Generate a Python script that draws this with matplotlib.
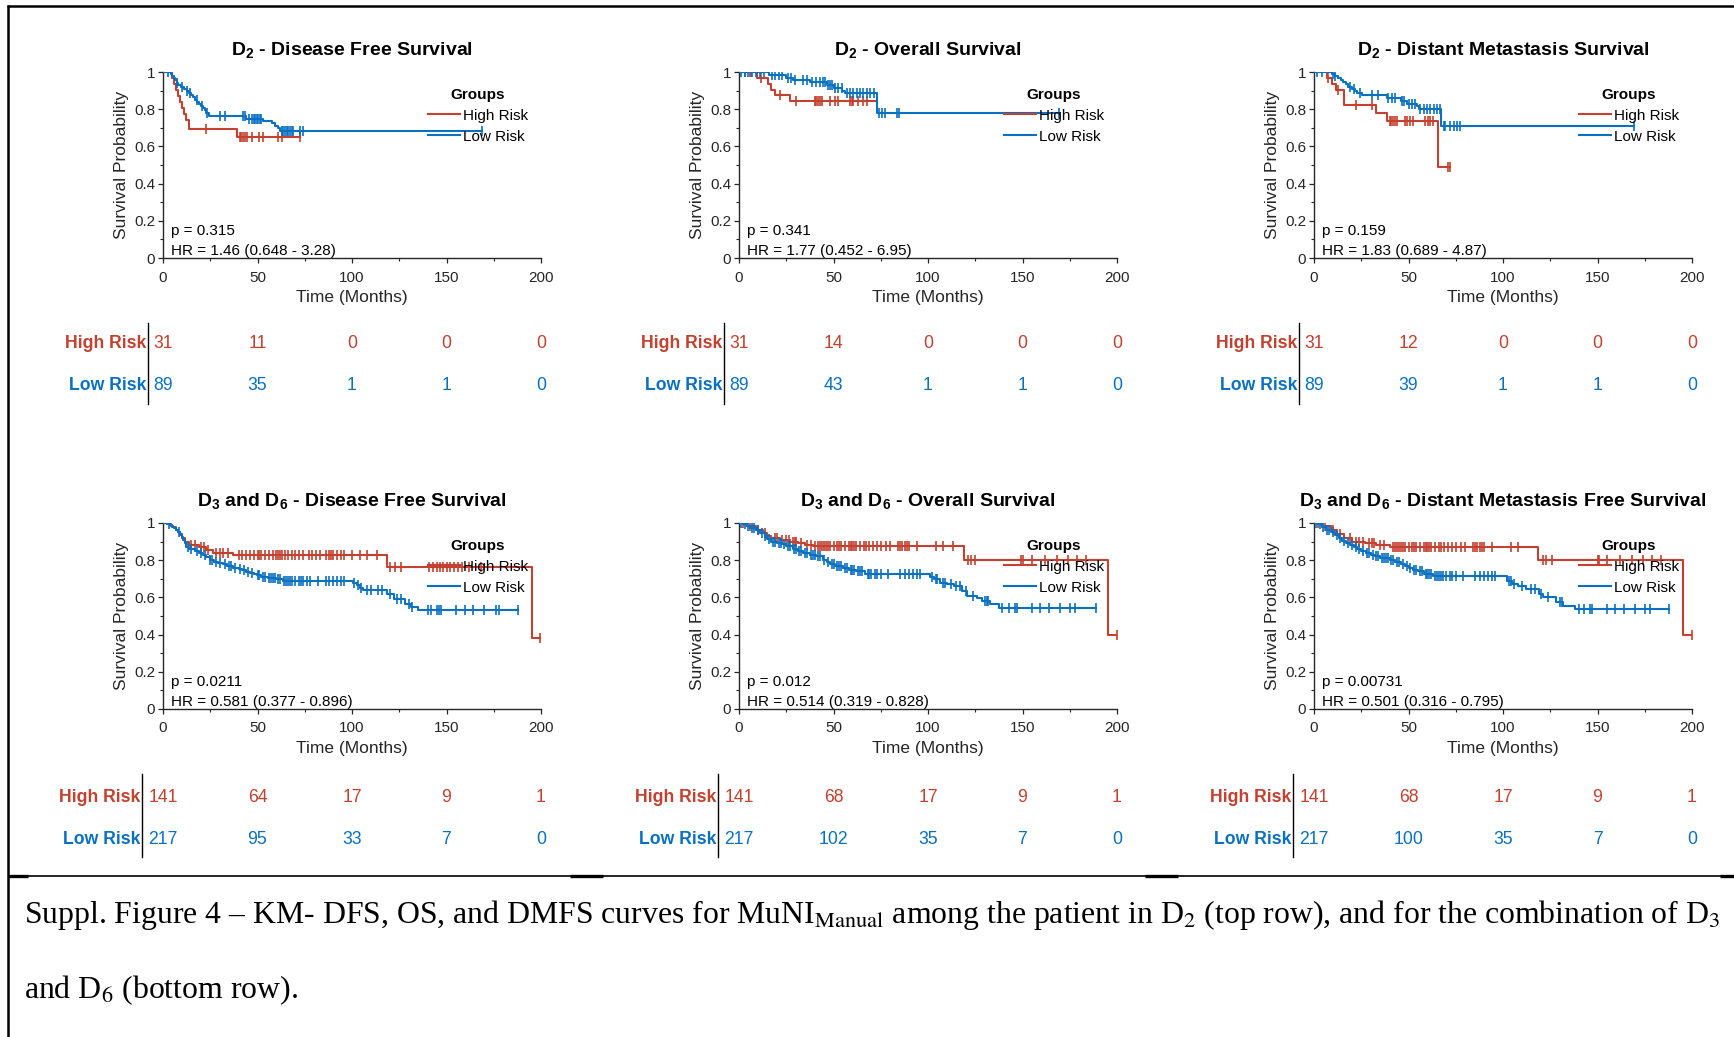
import numpy as np
import matplotlib
matplotlib.use('Agg')
import matplotlib.pyplot as plt
from matplotlib.lines import Line2D
from matplotlib.ticker import MultipleLocator, FixedLocator

plt.rcParams['font.family'] = ['Liberation Sans', 'DejaVu Sans']
plt.rcParams['mathtext.fontset'] = 'custom'
plt.rcParams['mathtext.rm'] = 'Liberation Sans'
plt.rcParams['mathtext.bf'] = 'Liberation Sans:bold'
plt.rcParams['mathtext.it'] = 'Liberation Sans:italic'

# ---------------------------------------------------------------- data
groups = ['High Risk', 'Low Risk']
xticks = [0, 50, 100, 150, 200]
yticks = [0, 0.2, 0.4, 0.6, 0.8, 1.0]
ytick_labels = ['0', '0.2', '0.4', '0.6', '0.8', '1']
at_risk_times = [0, 50, 100, 150, 200]

titles = [r'$\mathbf{D_2}$ - Disease Free Survival',
          r'$\mathbf{D_2}$ - Overall Survival',
          r'$\mathbf{D_2}$ - Distant Metastasis Survival',
          r'$\mathbf{D_3}$ and $\mathbf{D_6}$ - Disease Free Survival',
          r'$\mathbf{D_3}$ and $\mathbf{D_6}$ - Overall Survival',
          r'$\mathbf{D_3}$ and $\mathbf{D_6}$ - Distant Metastasis Free Survival']
p_texts = ['p = 0.315', 'p = 0.341', 'p = 0.159', 'p = 0.0211', 'p = 0.012', 'p = 0.00731']
hr_texts = ['HR = 1.46 (0.648 - 3.28)', 'HR = 1.77 (0.452 - 6.95)', 'HR = 1.83 (0.689 - 4.87)',
            'HR = 0.581 (0.377 - 0.896)', 'HR = 0.514 (0.319 - 0.828)', 'HR = 0.501 (0.316 - 0.795)']

# Panel 1: D2 DFS
dfs_d2_high_t = [5, 6, 7, 8, 9, 10, 11, 12, 13.5, 39]
dfs_d2_high_s = [0.968, 0.935, 0.903, 0.871, 0.839, 0.806, 0.774, 0.742, 0.695, 0.652]
dfs_d2_high_c = [22.5, 40.5, 41.5, 42.5, 43.5, 44.5, 47, 51, 53, 61, 63, 72.5]
dfs_d2_low_t = [4, 5, 5.8, 6.5, 7.2, 8, 9.5, 11, 12.5, 14, 15, 16, 17, 18, 19, 20, 21, 22, 23, 24.5, 44, 53, 57.5, 59, 61, 62]
dfs_d2_low_s = [0.989, 0.977, 0.966, 0.955, 0.943, 0.932, 0.92, 0.909, 0.897, 0.886, 0.874, 0.863, 0.851,
                0.84, 0.828, 0.817, 0.805, 0.794, 0.782, 0.763, 0.75, 0.737, 0.724, 0.711, 0.697, 0.683]
dfs_d2_low_c = [2.8, 7.2, 9.9, 12.9, 14.3, 17.8, 20.5, 23.1, 30.2, 32.8, 42.5, 43.3, 45.5, 46.9, 48, 48.7,
                49.6, 50.4, 51.3, 52, 62.8, 63.7, 64.6, 65.4, 66.3, 67.2, 68.1, 69, 72.5, 74.3, 168.6]
dfs_d2_high_n = [31, 11, 0, 0, 0]
dfs_d2_low_n = [89, 35, 1, 1, 0]

# Panel 2: D2 OS
os_d2_high_t = [9.5, 15.5, 17, 19, 27]
os_d2_high_s = [0.968, 0.935, 0.903, 0.874, 0.845]
os_d2_high_c = [3, 5.7, 6.5, 11.9, 21.6, 30.4, 40, 41, 42, 43, 43.7, 48, 51, 52.6, 58.8, 59.6, 60.5,
                63.2, 65.8, 67.6, 72.9]
os_d2_low_t = [16, 25, 28.7, 37.5, 46.4, 50, 54.5, 56, 73]
os_d2_low_s = [0.982, 0.968, 0.957, 0.945, 0.93, 0.915, 0.9, 0.888, 0.78]
os_d2_low_c = [1.2, 3, 5, 7, 9, 11, 13, 17.2, 19, 21, 23, 26, 27.5, 29.6, 34, 35.8, 38.4, 41, 42.8, 44.6,
               45.5, 47.3, 48.1, 49, 50.8, 52.6, 54.3, 57, 58.8, 60.5, 62.3, 64, 65.8, 67.6, 69.4, 71.2,
               74.3, 75.6, 77.3, 83.5, 84.4, 169.4]
os_d2_high_n = [31, 14, 0, 0, 0]
os_d2_low_n = [89, 43, 1, 1, 0]

# Panel 3: D2 DMFS
dm_d2_high_t = [6.7, 9.5, 11.5, 16, 33, 38.5, 65.4]
dm_d2_high_s = [0.968, 0.935, 0.903, 0.823, 0.78, 0.735, 0.49]
dm_d2_high_c = [7.6, 12.9, 22.3, 30.6, 40, 41, 42, 43, 43.9, 48.3, 49.2, 50.9, 52.3, 58.9, 60.1, 61.5,
                63, 70.7, 72.1]
dm_d2_low_t = [9.4, 11, 12.9, 14.5, 15.6, 17, 18.2, 20, 21.5, 22.6, 25.3, 38.5, 46, 49, 54.5, 55.3, 67.4]
dm_d2_low_s = [0.988, 0.977, 0.966, 0.955, 0.944, 0.933, 0.922, 0.91, 0.899, 0.887, 0.875, 0.86, 0.845,
               0.83, 0.815, 0.80, 0.71]
dm_d2_low_c = [1.4, 4.1, 10.3, 11.1, 19.1, 20.9, 24.4, 30.6, 34.1, 39.4, 41.2, 43, 46.5, 47.4, 50, 51.8,
               53.6, 56.2, 58, 59.7, 61.5, 63.3, 65, 66.8, 68.6, 69.5, 72.1, 73.9, 75.7, 77.1, 169.4]
dm_d2_high_n = [31, 12, 0, 0, 0]
dm_d2_low_n = [89, 39, 1, 1, 0]

# Panel 4: D3 & D6 DFS
dfs_d36_high_t = [2, 4, 5.5, 7, 8, 9, 10, 11.5, 14, 19, 23, 26.5, 37, 118.4, 195]
dfs_d36_high_s = [0.993, 0.986, 0.978, 0.964, 0.95, 0.935, 0.92, 0.9, 0.88, 0.87, 0.855, 0.84, 0.828,
                  0.765, 0.38]
dfs_d36_high_c = [15, 17, 20, 21.5, 24, 28, 30, 32, 34.5, 40, 42, 44, 46, 48, 50, 51, 52, 54, 56, 58, 60,
                  61, 62, 63, 64.5, 66, 68, 70, 72, 74, 77, 79, 81, 83, 86, 88, 89, 90, 92, 94, 96, 100,
                  104, 108, 113, 120, 122.5, 126, 141, 143, 145, 146.5, 148, 150, 152, 154, 156, 158,
                  162, 168, 199.6]
dfs_d36_low_t = [2, 3.5, 5, 6, 7, 8, 9, 10, 10.6, 11.5, 12.4, 14, 16.8, 19, 21, 23, 24.7, 27, 29, 31.8,
                 34, 37, 40, 42, 44, 46, 48, 49.5, 52, 55.7, 60, 63.6, 100.5, 102.5, 104, 106, 118.4,
                 122, 128, 131, 135]
dfs_d36_low_s = [0.995, 0.99, 0.98, 0.972, 0.962, 0.95, 0.94, 0.925, 0.91, 0.89, 0.87, 0.86, 0.85, 0.84,
                 0.83, 0.815, 0.80, 0.792, 0.785, 0.778, 0.768, 0.76, 0.752, 0.745, 0.738, 0.732, 0.726,
                 0.72, 0.712, 0.705, 0.697, 0.69, 0.677, 0.665, 0.652, 0.64, 0.62, 0.59, 0.565, 0.55,
                 0.53]
dfs_d36_low_c = [3, 8.5, 13, 15, 18, 20, 22, 25, 26, 28, 30, 33, 35, 36, 38, 41, 43, 45, 47, 50, 51, 53,
                 54, 56, 57, 58, 59, 61, 62, 64, 65, 66, 67, 68, 70, 72, 73, 74, 76, 78, 82, 86, 88, 90,
                 92, 94, 96, 101, 103, 105, 108, 110, 114, 116, 120, 124, 126, 130, 132, 140, 142, 145,
                 146, 147, 155, 160, 164, 170, 176, 178, 188]
dfs_d36_high_n = [141, 64, 17, 9, 1]
dfs_d36_low_n = [217, 95, 33, 7, 0]

# Panel 5: D3 & D6 OS
os_d36_high_t = [4, 9, 12.7, 15, 17, 21.6, 27, 31, 35, 39, 119, 195]
os_d36_high_s = [0.985, 0.965, 0.945, 0.93, 0.92, 0.91, 0.9, 0.89, 0.882, 0.875, 0.80, 0.40]
os_d36_high_c = [2, 6, 10, 14, 19, 20, 23, 25, 26.5, 28.5, 29.5, 30, 33, 36, 38, 40, 42, 43, 44, 45, 46,
                 47, 48, 50, 52, 53, 54, 56, 58, 59, 60, 61, 62, 64, 66, 67, 69, 71, 73, 75, 78, 80, 84,
                 85, 86, 88, 89, 90, 94, 104, 108, 113, 121, 122.5, 125, 149, 150.5, 155, 162, 168, 174,
                 179, 183.5, 200]
os_d36_low_t = [2, 4, 6, 9, 11, 13.6, 15, 17, 20, 23, 25, 28.7, 31, 34, 37.5, 41, 44.6, 46.5, 48, 51, 55,
                58, 62, 66.7, 101, 103, 106.5, 110, 113.6, 118, 120.7, 126, 128.7, 133, 137.5]
os_d36_low_s = [0.995, 0.985, 0.975, 0.96, 0.945, 0.93, 0.915, 0.9, 0.89, 0.885, 0.878, 0.86, 0.85, 0.84,
                0.83, 0.82, 0.80, 0.79, 0.78, 0.77, 0.76, 0.75, 0.74, 0.725, 0.712, 0.70, 0.68, 0.67,
                0.66, 0.635, 0.61, 0.595, 0.58, 0.565, 0.545]
os_d36_low_c = [1, 3, 5, 7, 8, 10, 12, 14, 16, 18, 19, 21, 22, 24, 26, 27, 29, 30, 32, 33, 35, 36, 38, 39,
                40, 42, 43, 45, 47, 49, 50, 52, 53, 54, 56, 57, 59, 60, 61, 63, 64, 65, 68, 69, 70, 72,
                73, 75, 79, 85, 88, 90, 92, 94, 96, 102, 104, 105, 108, 109, 112, 115, 117, 120, 124,
                130, 131, 132, 139, 143, 146, 147, 155, 159, 164, 170, 175, 178, 188.8]
os_d36_high_n = [141, 68, 17, 9, 1]
os_d36_low_n = [217, 102, 35, 7, 0]

# Panel 6: D3 & D6 DMFS
dm_d36_high_t = [4, 9, 12, 16, 20, 27, 33, 40, 118.5, 195]
dm_d36_high_s = [0.985, 0.962, 0.94, 0.92, 0.90, 0.89, 0.88, 0.87, 0.80, 0.40]
dm_d36_high_c = [2, 6, 10, 14, 19, 22, 24, 26, 29, 30.5, 32, 35, 37, 42, 43, 44, 45, 46, 47, 48, 50, 52,
                 53, 54, 56, 58, 59, 60, 61, 62, 64, 66, 67, 69, 71, 73, 75, 78, 80, 84, 85, 86, 88, 89,
                 90, 94, 104, 108, 121, 122.5, 126, 150, 151, 155, 162, 168, 174, 179, 183.5, 200]
dm_d36_low_t = [2, 4, 6.5, 9, 11, 13, 15, 17, 19, 21, 23, 25, 27.5, 30, 32.5, 35, 40, 43, 46, 48, 50,
                52.5, 55, 58, 63, 102, 105, 108, 112, 119, 121, 128, 132, 138]
dm_d36_low_s = [0.995, 0.98, 0.965, 0.95, 0.935, 0.92, 0.905, 0.89, 0.88, 0.87, 0.86, 0.85, 0.84, 0.83,
                0.82, 0.81, 0.80, 0.79, 0.78, 0.77, 0.76, 0.75, 0.74, 0.725, 0.715, 0.69, 0.67, 0.66,
                0.645, 0.62, 0.60, 0.575, 0.555, 0.535]
dm_d36_low_c = [1, 3, 5, 7, 8, 10, 12, 14, 16, 18, 20, 22, 24, 26, 28, 29, 31, 33, 34, 36, 37, 38, 39, 41,
                42, 44, 45, 47, 49, 51, 53, 54, 56, 57, 59, 60, 61, 62, 64, 65, 66, 67, 68, 70, 72, 73,
                75, 79, 85, 88, 90, 92, 94, 96, 103, 104, 106, 110, 115, 117, 120, 124, 130, 131, 140,
                143, 146, 147, 155, 159, 164, 170, 175, 178, 188]
dm_d36_high_n = [141, 68, 17, 9, 1]
dm_d36_low_n = [217, 100, 35, 7, 0]

# ---------------------------------------------------------------- style
RED = '#C4402F'
BLUE = '#0A70C2'
AX_COL = '#262626'
W, H = 1734, 1037

panels = [
    (dfs_d2_high_t, dfs_d2_high_s, dfs_d2_high_c, dfs_d2_low_t, dfs_d2_low_s, dfs_d2_low_c, dfs_d2_high_n, dfs_d2_low_n),
    (os_d2_high_t, os_d2_high_s, os_d2_high_c, os_d2_low_t, os_d2_low_s, os_d2_low_c, os_d2_high_n, os_d2_low_n),
    (dm_d2_high_t, dm_d2_high_s, dm_d2_high_c, dm_d2_low_t, dm_d2_low_s, dm_d2_low_c, dm_d2_high_n, dm_d2_low_n),
    (dfs_d36_high_t, dfs_d36_high_s, dfs_d36_high_c, dfs_d36_low_t, dfs_d36_low_s, dfs_d36_low_c, dfs_d36_high_n, dfs_d36_low_n),
    (os_d36_high_t, os_d36_high_s, os_d36_high_c, os_d36_low_t, os_d36_low_s, os_d36_low_c, os_d36_high_n, os_d36_low_n),
    (dm_d36_high_t, dm_d36_high_s, dm_d36_high_c, dm_d36_low_t, dm_d36_low_s, dm_d36_low_c, dm_d36_high_n, dm_d36_low_n),
]

col_left_px = [163, 739, 1314]
ax_w_px = 378
row_top_px = [72, 523]
ax_h_px = 186
table_px = [(323, 404), (774, 857)]
row_y_px = [(343, 385), (797, 839)]
sep_off = [-7.9, -11.0]

fig = plt.figure(figsize=(W / 100, H / 100), dpi=100)
fig.patch.set_facecolor('white')


def km_draw(ax, t, s, c, color):
    t = np.asarray(t, float)
    s = np.asarray(s, float)
    c = np.asarray(c, float)
    tend = max(t.max(), c.max())
    xs = np.concatenate([[0], t, [tend]])
    ys = np.concatenate([[1], s, [s[-1]]])
    ln, = ax.step(xs, ys, where='post', color=color, lw=1.5, zorder=3)
    lev = np.concatenate([[1], s])
    cy = lev[np.searchsorted(t, c, side='right')]
    ax.plot(c, cy, ls='none', marker='|', ms=6.5, mew=1.2, color=color, zorder=3)
    return ln


for i, pdata in enumerate(panels):
    r, cidx = divmod(i, 3)
    ht, hs, hc, lt, ls_, lc, hn, ln_ = pdata
    left = col_left_px[cidx] / W
    bottom = 1 - (row_top_px[r] + ax_h_px) / H
    ax = fig.add_axes([left, bottom, ax_w_px / W, ax_h_px / H])
    l1 = km_draw(ax, ht, hs, hc, RED)
    l2 = km_draw(ax, lt, ls_, lc, BLUE)
    ax.set_xlim(0, 200)
    ax.set_ylim(0, 1)
    ax.xaxis.set_major_locator(FixedLocator(xticks))
    ax.yaxis.set_major_locator(FixedLocator(yticks))
    ax.set_yticklabels(ytick_labels)
    ax.xaxis.set_minor_locator(MultipleLocator(25))
    ax.yaxis.set_minor_locator(MultipleLocator(0.1))
    for sp in ['top', 'right']:
        ax.spines[sp].set_visible(False)
    for sp in ['left', 'bottom']:
        ax.spines[sp].set_color(AX_COL)
        ax.spines[sp].set_linewidth(1.0)
    ax.tick_params(which='major', direction='out', length=3.5, width=0.9, colors=AX_COL, labelsize=11)
    ax.tick_params(axis='x', which='major', pad=5.5)
    ax.tick_params(axis='y', which='major', pad=2)
    ax.tick_params(which='minor', direction='out', length=2, width=0.8, colors=AX_COL)
    ax.set_xlabel('Time (Months)', fontsize=12.5, color=AX_COL, labelpad=4)
    ax.set_ylabel('Survival Probability', fontsize=12.5, color=AX_COL, labelpad=4)
    ax.set_title(titles[i], fontsize=14, fontweight='bold', pad=12)
    ax.text(0.02, 0.145, p_texts[i], transform=ax.transAxes, fontsize=11, va='center', color='black')
    ax.text(0.02, 0.04, hr_texts[i], transform=ax.transAxes, fontsize=11, va='center', color='black')
    leg = ax.legend([l1, l2], groups, title='Groups', title_fontproperties={'weight': 'bold', 'size': 11},
                    fontsize=11, frameon=False, loc='upper left', bbox_to_anchor=(0.70, 0.915),
                    borderaxespad=0, borderpad=0, handlelength=2.15, handletextpad=0.15,
                    labelspacing=0.45)

    # number-at-risk table
    t_top, t_bot = table_px[r]
    tab = fig.add_axes([left, 1 - t_bot / H, ax_w_px / W, (t_bot - t_top) / H])
    tab.set_xlim(0, 200)
    tab.set_ylim(0, 1)
    tab.axis('off')
    y_hi = (t_bot - row_y_px[r][0]) / (t_bot - t_top)
    y_lo = (t_bot - row_y_px[r][1]) / (t_bot - t_top)
    xs_sep = sep_off[r]
    tab.plot([xs_sep, xs_sep], [0, 1], color='black', lw=1.0, clip_on=False)
    tab.text(xs_sep - 1.0, y_hi, groups[0], ha='right', va='center', fontsize=12.7, fontweight='bold',
             color=RED, clip_on=False)
    tab.text(xs_sep - 1.0, y_lo, groups[1], ha='right', va='center', fontsize=12.7, fontweight='bold',
             color=BLUE, clip_on=False)
    for tt, n in zip(at_risk_times, hn):
        tab.text(tt, y_hi, str(n), ha='center', va='center', fontsize=12.7, color=RED, clip_on=False)
    for tt, n in zip(at_risk_times, ln_):
        tab.text(tt, y_lo, str(n), ha='center', va='center', fontsize=12.7, color=BLUE, clip_on=False)

# ---------------------------------------------------------------- frame & caption
def hline(x0, x1, y, lw):
    fig.add_artist(Line2D([x0 / W, x1 / W], [1 - y / H, 1 - y / H], color='black', lw=lw,
                          transform=fig.transFigure, solid_capstyle='butt'))

fig.add_artist(Line2D([8 / W, 8 / W], [0, 1 - 5 / H], color='black', lw=1.8,
                      transform=fig.transFigure, solid_capstyle='butt'))
hline(7, W, 6, 1.8)
hline(8, W, 876, 1.2)
for a, b in [(8, 28), (570, 603), (1145, 1178), (1720, W)]:
    hline(a, b, 875.5, 2.4)

caption1 = (r'Suppl. Figure 4 – KM- DFS, OS, and DMFS curves for MuNI$_{\mathrm{Manual}}$ among the patient '
            r'in D$_{2}$ (top row), and for the combination of D$_{3}$')
caption2 = r'and D$_{6}$ (bottom row).'
fig.text(24 / W, 1 - 923 / H, caption1, fontfamily='Liberation Serif', fontsize=22.9, va='baseline',
         ha='left', math_fontfamily='stix', color='black')
fig.text(24 / W, 1 - 998 / H, caption2, fontfamily='Liberation Serif', fontsize=22.9, va='baseline',
         ha='left', math_fontfamily='stix', color='black')

fig.savefig('out.png', dpi=100, facecolor='white')
